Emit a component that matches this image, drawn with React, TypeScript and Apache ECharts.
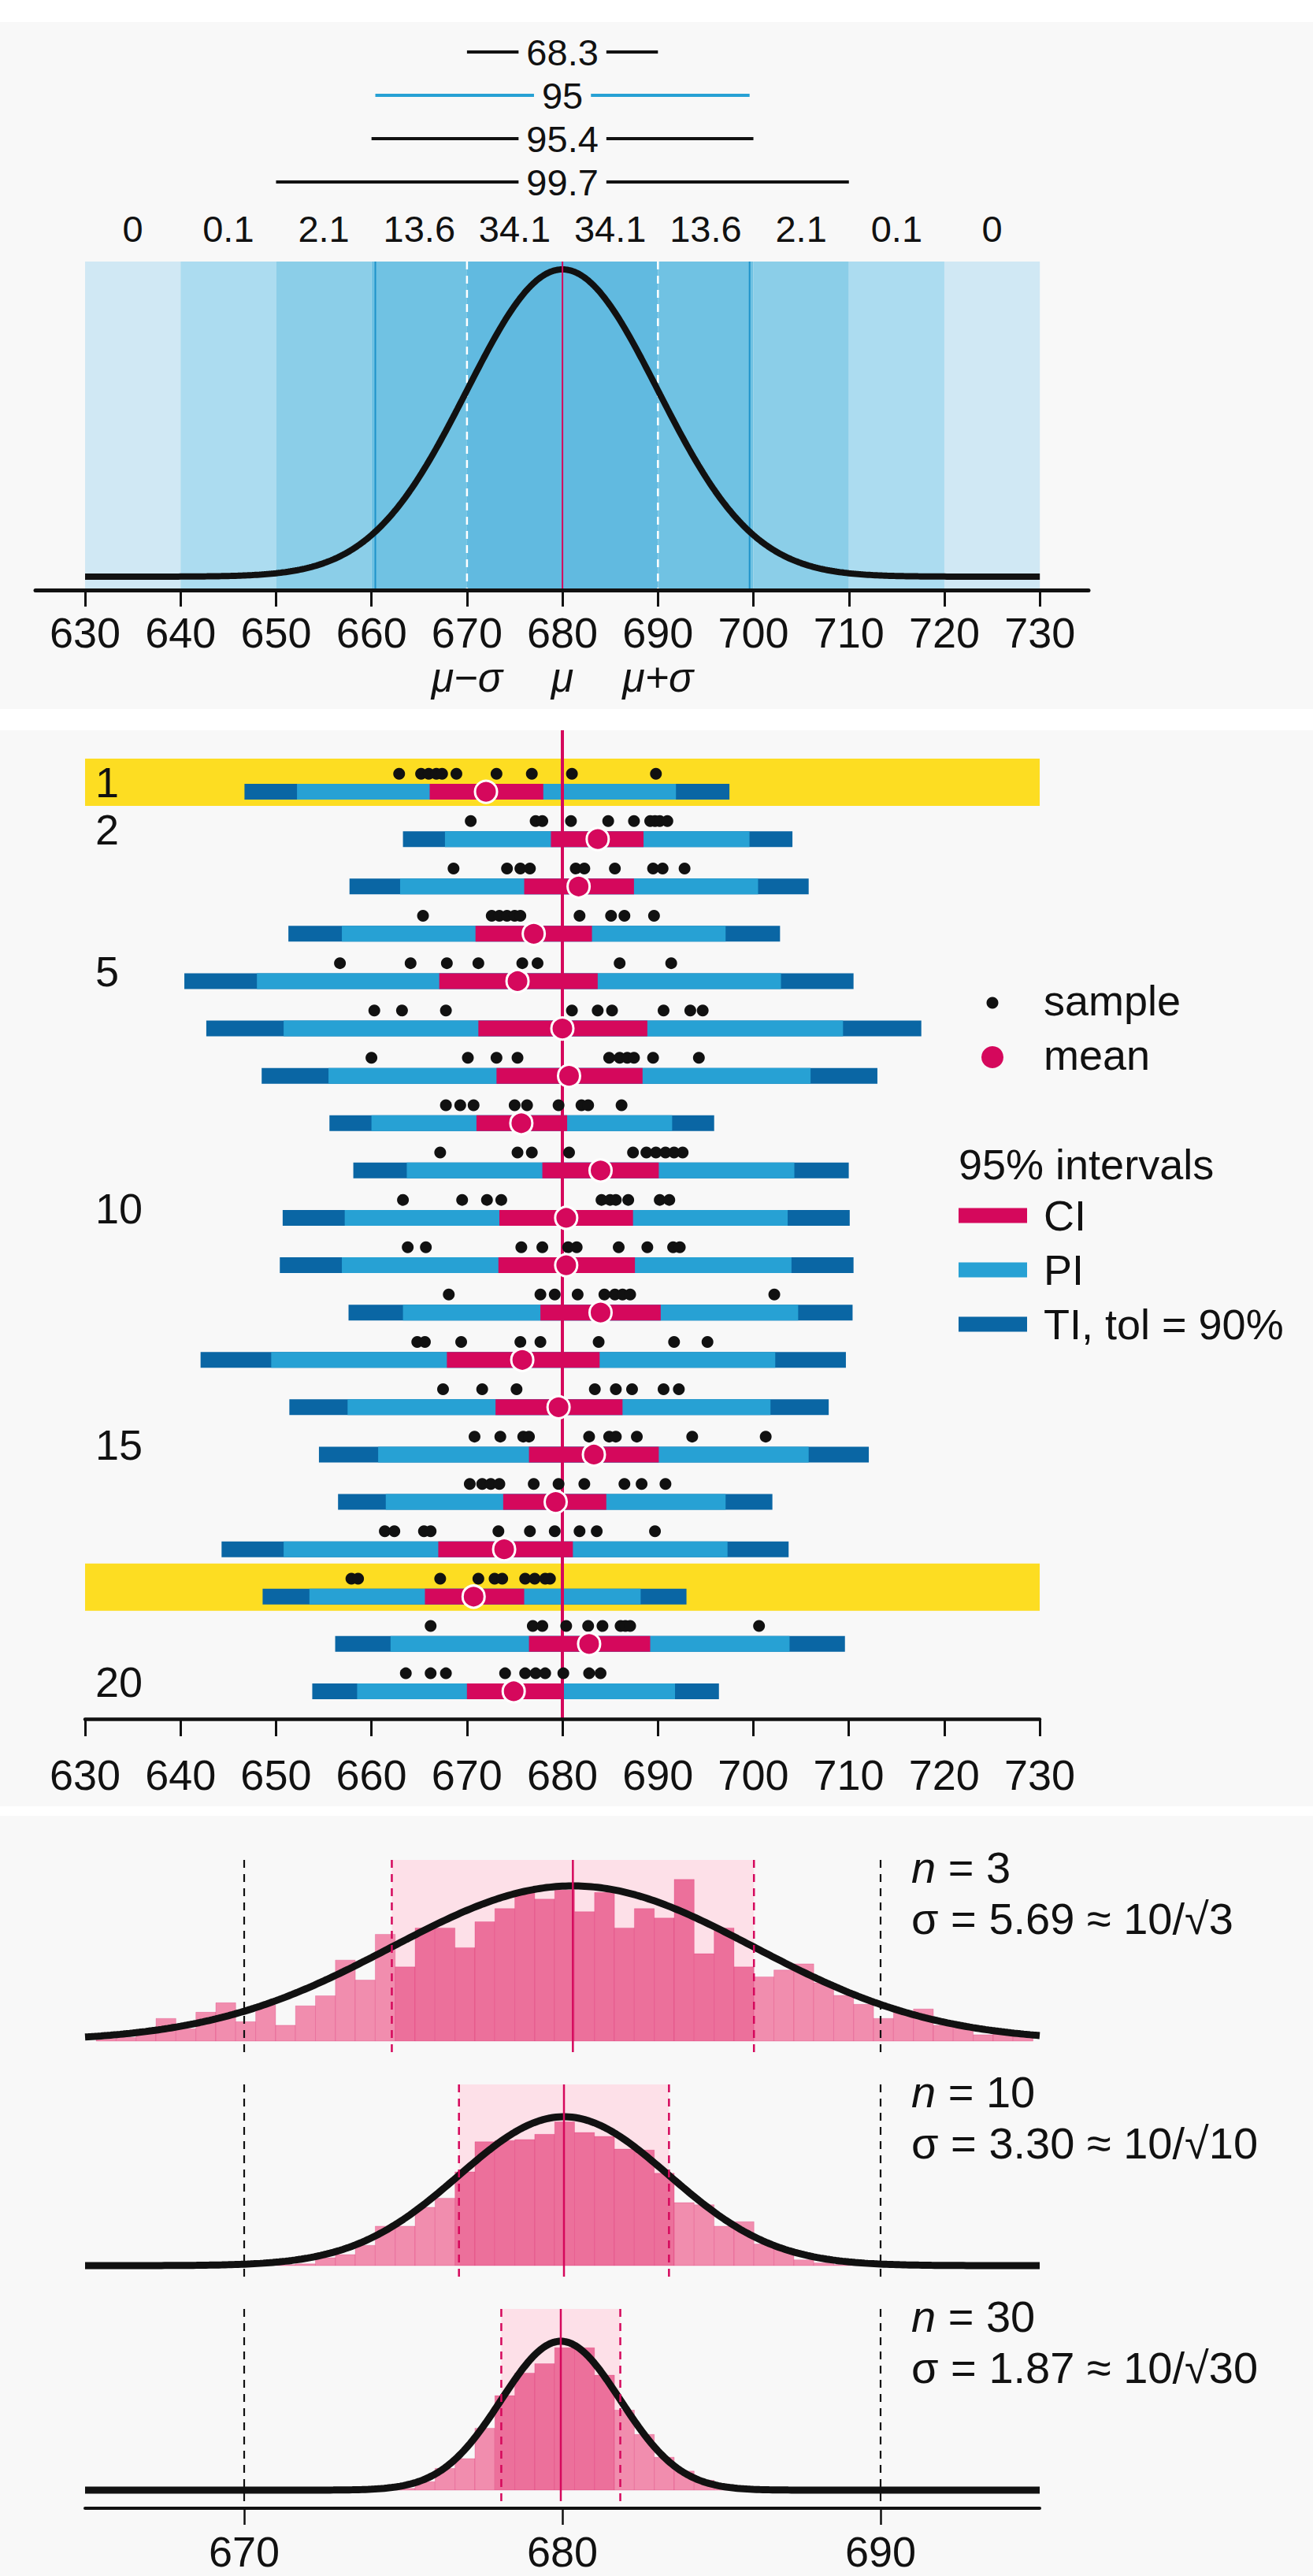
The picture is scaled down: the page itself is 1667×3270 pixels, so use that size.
import React, { useEffect, useRef } from "react";
import * as echarts from "echarts";

const FONT = "Liberation Sans";
const INK = "#111111";
const MAGENTA = "#d5085c";
const PI_BLUE = "#27a1d4";
const TI_BLUE = "#0a66a4";
const YELLOW = "#fddd22";
const PANEL_BG = "#f8f8f8";
const BAND_COLORS = ["#d0e8f4", "#acdcf0", "#8bcee8", "#70c2e3", "#61bae0"];
const HIST_IN = "#ec709b";
const HIST_OUT = "#f18dae";
const HIST_EDGE = "rgba(214,8,92,0.22)";
const CI_FILL = "#fde0e8";

// ---------------- top panel ----------------
const popMean = 680;
const popSd = 10;
const xTicks = [630, 640, 650, 660, 670, 680, 690, 700, 710, 720, 730];
const bandLo = [630, 640, 650, 660, 670, 690, 700, 710, 720];
const bandHi = [640, 650, 660, 670, 690, 700, 710, 720, 730];
const bandShade = [0, 1, 2, 3, 4, 3, 2, 1, 0];
const bandPctAt = [635, 645, 655, 665, 675, 685, 695, 705, 715, 725];
const bandPct = ["0", "0.1", "2.1", "13.6", "34.1", "34.1", "13.6", "2.1", "0.1", "0"];
const coverLabels = ["68.3", "95", "95.4", "99.7"];
const coverZ = [1, 1.96, 2, 3];
const sigmaMarks = [670, 680, 690];
const sigmaMarkLabels = ["μ−σ", "μ", "μ+σ"];

// ---------------- middle panel ----------------
const rowLabels = [1, 2, 5, 10, 15, 20];
const highlightRows = [1, 18];
const sampleRows: number[][] = [
  [662.9, 665.2, 666.0, 666.8, 667.4, 668.9, 673.1, 676.8, 681.0, 689.8],
  [670.4, 677.2, 677.9, 680.9, 684.8, 687.5, 689.2, 689.7, 690.2, 691.0],
  [668.6, 674.2, 675.6, 676.6, 681.4, 682.3, 685.5, 689.5, 690.5, 692.8],
  [665.4, 672.6, 673.4, 674.2, 675.0, 675.6, 681.8, 685.1, 686.5, 689.6],
  [656.7, 664.1, 667.9, 671.2, 675.8, 677.4, 686.0, 691.4],
  [660.3, 663.2, 667.8, 681.0, 683.7, 685.2, 690.6, 693.4, 694.7],
  [660.0, 670.1, 673.1, 675.3, 684.9, 686.0, 686.8, 687.5, 689.5, 694.3],
  [667.8, 669.3, 670.7, 675.0, 676.3, 679.6, 682.0, 682.7, 686.2],
  [667.2, 675.3, 676.8, 680.7, 687.4, 688.8, 689.8, 690.8, 691.7, 692.6],
  [663.3, 669.5, 672.1, 673.6, 684.1, 685.0, 685.6, 686.9, 690.2, 691.2],
  [663.8, 665.7, 675.7, 677.9, 680.6, 681.5, 685.9, 688.9, 691.6, 692.3],
  [668.1, 677.7, 679.2, 681.6, 684.4, 685.5, 686.3, 687.1, 702.2],
  [664.8, 665.6, 669.4, 675.6, 677.7, 683.8, 691.7, 695.2],
  [667.5, 671.6, 675.2, 683.4, 685.6, 687.3, 690.6, 692.2],
  [670.8, 673.5, 675.9, 676.5, 682.8, 684.9, 685.6, 687.8, 693.6, 701.3],
  [670.3, 671.6, 672.5, 673.4, 677.0, 679.6, 682.3, 686.5, 688.3, 690.8],
  [661.4, 662.4, 665.5, 666.2, 673.3, 676.6, 679.2, 681.8, 683.6, 689.7],
  [657.9, 658.6, 667.2, 671.2, 672.9, 673.7, 676.1, 677.1, 678.2, 678.7],
  [666.2, 676.9, 677.9, 680.4, 682.7, 684.2, 686.1, 686.6, 687.1, 700.6],
  [663.6, 666.2, 667.8, 674.0, 676.1, 677.2, 678.2, 680.1, 682.8, 684.0],
];
const rowMeans = [672.0, 683.7, 681.7, 677.0, 675.3, 680.0, 680.7, 675.7, 684.0, 680.4, 680.4, 684.0, 675.8, 679.6, 683.3, 679.3, 673.9, 670.7, 682.8, 674.9];
const ciLo = [666.1, 678.8, 676.0, 670.9, 667.1, 671.2, 673.1, 671.0, 677.9, 673.4, 673.3, 677.7, 667.9, 673.0, 676.5, 673.8, 667.0, 665.6, 676.5, 670.0];
const ciHi = [678.0, 688.5, 687.5, 683.1, 683.7, 688.9, 688.4, 680.5, 690.1, 687.4, 687.6, 690.3, 683.9, 686.3, 690.1, 684.6, 681.1, 676.0, 689.2, 680.1];
const piLo = [652.2, 667.7, 663.0, 656.9, 648.0, 650.8, 655.5, 660.0, 663.7, 657.2, 656.9, 663.3, 649.5, 657.5, 660.7, 661.5, 650.8, 653.5, 662.0, 658.5];
const piHi = [691.9, 699.6, 700.5, 697.1, 702.9, 709.4, 706.0, 691.5, 704.3, 703.6, 704.0, 704.7, 702.3, 701.8, 705.8, 697.1, 697.3, 688.2, 703.8, 691.8];
const tiLo = [646.7, 663.3, 657.7, 651.3, 640.4, 642.7, 648.5, 655.6, 658.1, 650.7, 650.4, 657.6, 642.1, 651.4, 654.5, 656.5, 644.3, 648.6, 656.2, 653.8];
const tiHi = [697.5, 704.1, 705.8, 702.8, 710.5, 717.6, 713.0, 695.9, 710.0, 710.1, 710.5, 710.4, 709.7, 707.9, 712.1, 702.0, 703.7, 693.0, 709.6, 696.4];

// ---------------- bottom panel ----------------
const sampleN = [3, 10, 30];
const sampleMean = [680.33, 680.05, 679.95];
const sampleSd = [5.69, 3.3, 1.87];
const sdNotes = ["σ = 5.69 ≈ 10/√3", "σ = 3.30 ≈ 10/√10", "σ = 1.87 ≈ 10/√30"];
const bottomTicks = [670, 680, 690];
const binStart = 665.35;
const binWidth = 0.6264;
const hist3 = [
  0.017, 0.024, 0.054, 0.146, 0.08, 0.186, 0.247, 0.125, 0.232, 0.102,
  0.227, 0.292, 0.522, 0.393, 0.688, 0.478, 0.729, 0.729, 0.602, 0.769,
  0.854, 0.958, 0.915, 0.973, 0.834, 0.958, 0.729, 0.854, 0.793, 1.042,
  0.563, 0.729, 0.478, 0.414, 0.458, 0.498, 0.376, 0.295, 0.237, 0.146,
  0.186, 0.207, 0.102, 0.102, 0.041, 0.054, 0.041,
];
const hist10 = [
  0, 0, 0, 0, 0, 0, 0, 0, 0,
  0.007, 0.012, 0.053, 0.074, 0.136, 0.265, 0.265, 0.392, 0.453, 0.63,
  0.832, 0.84, 0.847, 0.882, 0.965, 0.894, 0.868, 0.783, 0.776, 0.621,
  0.423, 0.409, 0.265, 0.295, 0.145, 0.109, 0.039, 0.018, 0.007,
  0, 0, 0, 0, 0, 0, 0, 0, 0,
];
const hist30 = [
  0, 0, 0, 0, 0, 0, 0, 0, 0, 0, 0, 0, 0, 0, 0,
  0.012, 0.057, 0.146, 0.212, 0.416, 0.635, 0.786, 0.849, 0.956, 0.956,
  0.772, 0.537, 0.374, 0.221, 0.128, 0.066, 0.018,
  0, 0, 0, 0, 0, 0, 0, 0, 0, 0, 0, 0, 0, 0, 0,
];
const hists = [hist3, hist10, hist30];

// ---------------- layout constants ----------------
const W = 1667;
const H = 3270;
const TOP_XMIN = 624.8;
const TOP_XMAX = 735.1;
const BAR_SHIFT = 0.2;
const DOT_SHIFT = 0.18;
const BAR_H = 20;
const PEAK_PX = [197, 189, 189];

function gaussCurve(m: number, s: number, from: number, to: number, step: number) {
  const pts: number[][] = [];
  for (let x = from; x <= to + 1e-9; x += step) {
    const z = (x - m) / s;
    pts.push([x, Math.exp(-0.5 * z * z)]);
  }
  return pts;
}

function vLines(xAxisIndex: number, yAxisIndex: number, z: number, xs: number[], styles: any[]) {
  return {
    type: "custom",
    xAxisIndex,
    yAxisIndex,
    z,
    silent: true,
    data: xs.map((x, i) => [x, i]),
    renderItem: (params: any, api: any) => {
      const cs = params.coordSys;
      const px = api.coord([api.value(0), 0])[0];
      const st = styles[params.dataIndex];
      return {
        type: "line",
        shape: { x1: px, y1: cs.y, x2: px, y2: cs.y + cs.height },
        style: { stroke: st.color, lineWidth: st.width, lineDash: st.dash || null },
      };
    },
  };
}

function intervalSeries(name: string, lo: number[], hi: number[], color: string, z: number) {
  return {
    type: "custom",
    name,
    xAxisIndex: 4,
    yAxisIndex: 2,
    z,
    silent: true,
    itemStyle: { color },
    data: lo.map((v, i) => [v, hi[i], i + 1]),
    renderItem: (params: any, api: any) => {
      const y = api.value(2) + BAR_SHIFT;
      const a = api.coord([api.value(0), y]);
      const b = api.coord([api.value(1), y]);
      return {
        type: "rect",
        shape: { x: a[0], y: a[1] - BAR_H / 2, width: b[0] - a[0], height: BAR_H },
        style: { fill: color },
      };
    },
  };
}

function textEl(x: number, y: number, text: string, size: number, align = "left", extra: any = {}) {
  return {
    type: "text",
    x,
    y,
    z: 20,
    silent: true,
    style: {
      text,
      fill: INK,
      fontSize: size,
      fontFamily: FONT,
      align,
      verticalAlign: "middle",
      textAlign: align,
      textVerticalAlign: "middle",
      ...extra,
    },
  };
}

function buildOption() {
  const grids: any[] = [
    { left: 45, right: 285, top: 38.5, height: 220 },
    { left: 45, right: 285, top: 332, height: 417 },
    { left: 108, right: 347, top: 927, height: 1255 },
  ];
  for (let k = 0; k < 3; k++) grids.push({ left: 108, right: 347, top: 2361 + 285 * k, height: 244 });

  const hidden = { show: false };
  const baseLabel = { fontFamily: FONT, color: INK };

  const xAxes: any[] = [
    { gridIndex: 0, type: "value", min: TOP_XMIN, max: TOP_XMAX, show: false },
    {
      gridIndex: 1, type: "value", min: TOP_XMIN, max: TOP_XMAX, position: "bottom", z: 10,
      axisLine: { show: true, onZero: false, lineStyle: { color: INK, width: 5 } },
      axisTick: { show: true, customValues: xTicks, length: 21, lineStyle: { color: INK, width: 3 } },
      axisLabel: { ...baseLabel, customValues: xTicks, fontSize: 54, margin: 27 },
      splitLine: hidden,
    },
    {
      gridIndex: 1, type: "value", min: TOP_XMIN, max: TOP_XMAX, position: "top",
      axisLine: { show: false, onZero: false }, axisTick: hidden, splitLine: hidden,
      axisLabel: {
        ...baseLabel, customValues: bandPctAt, fontSize: 47, margin: 18,
        formatter: (v: number) => bandPct[bandPctAt.indexOf(Math.round(v))] ?? "",
      },
    },
    {
      gridIndex: 1, type: "value", min: TOP_XMIN, max: TOP_XMAX, position: "bottom",
      axisLine: { show: false, onZero: false }, axisTick: hidden, splitLine: hidden,
      axisLabel: {
        ...baseLabel, customValues: sigmaMarks, fontSize: 52, fontStyle: "italic", margin: 85,
        formatter: (v: number) => sigmaMarkLabels[sigmaMarks.indexOf(Math.round(v))] ?? "",
      },
    },
    {
      gridIndex: 2, type: "value", min: 630, max: 730, interval: 10, position: "bottom", z: 10,
      axisLine: { show: true, onZero: false, lineStyle: { color: INK, width: 4.5 } },
      axisTick: { show: true, length: 22, lineStyle: { color: INK, width: 3 } },
      axisLabel: { ...baseLabel, fontSize: 54, margin: 44, showMinLabel: true, showMaxLabel: true },
      splitLine: hidden,
    },
  ];
  for (let k = 0; k < 3; k++) {
    if (k < 2) {
      xAxes.push({ gridIndex: 3 + k, type: "value", min: 665, max: 695, show: false });
    } else {
      xAxes.push({
        gridIndex: 3 + k, type: "value", min: 665, max: 695, position: "bottom", offset: 9, z: 10,
        axisLine: { show: true, onZero: false, lineStyle: { color: INK, width: 4 } },
        axisTick: { show: true, customValues: bottomTicks, length: 21, lineStyle: { color: INK, width: 2.5 } },
        axisLabel: { ...baseLabel, customValues: bottomTicks, fontSize: 54, margin: 28 },
        splitLine: hidden,
      });
    }
  }

  const yAxes: any[] = [
    { gridIndex: 0, type: "value", min: 0.5, max: 4.5, inverse: true, show: false },
    { gridIndex: 1, type: "value", min: -0.04359, max: 1.02564, show: false },
    {
      gridIndex: 2, type: "value", min: -0.099, max: 20.783, inverse: true, z: 10,
      axisLine: { show: false, onZero: false }, axisTick: hidden, splitLine: hidden,
      axisLabel: {
        ...baseLabel, customValues: rowLabels, inside: true, margin: 13, fontSize: 54,
        padding: [16, 0, 0, 0], formatter: (v: number) => String(Math.round(v)),
      },
    },
  ];
  for (let k = 0; k < 3; k++) {
    yAxes.push({ gridIndex: 3 + k, type: "value", min: -14 / PEAK_PX[k], max: 230 / PEAK_PX[k], show: false });
  }

  const series: any[] = [];

  // brackets
  series.push({
    type: "custom", xAxisIndex: 0, yAxisIndex: 0, z: 2, silent: true,
    data: coverZ.map((zv, i) => [popMean - zv * popSd, popMean + zv * popSd, i + 1]),
    renderItem: (params: any, api: any) => {
      const i = params.dataIndex;
      const a = api.coord([api.value(0), api.value(2)]);
      const b = api.coord([api.value(1), api.value(2)]);
      const color = coverZ[i] === 1.96 ? PI_BLUE : INK;
      return {
        type: "group",
        children: [
          { type: "line", shape: { x1: a[0], y1: a[1], x2: b[0], y2: b[1] }, style: { stroke: color, lineWidth: 4 } },
          {
            type: "text", x: (a[0] + b[0]) / 2, y: a[1], z2: 10,
            style: {
              text: coverLabels[i], fill: INK, fontSize: 47, fontFamily: FONT,
              align: "center", verticalAlign: "middle", textAlign: "center", textVerticalAlign: "middle",
              backgroundColor: PANEL_BG, padding: [0, 10],
            },
          },
        ],
      };
    },
  });

  // top bands
  series.push({
    type: "custom", xAxisIndex: 1, yAxisIndex: 1, z: 1, silent: true,
    data: bandLo.map((lo, i) => [lo, bandHi[i], bandShade[i]]),
    renderItem: (params: any, api: any) => {
      const cs = params.coordSys;
      const x0 = api.coord([api.value(0), 0])[0];
      const x1 = api.coord([api.value(1), 0])[0];
      return {
        type: "rect",
        shape: { x: x0, y: cs.y, width: x1 - x0, height: cs.height - 2 },
        style: { fill: BAND_COLORS[api.value(2)] },
      };
    },
  });
  series.push(
    vLines(1, 1, 2, [popMean - 1.96 * popSd, popMean + 1.96 * popSd, popMean - popSd, popMean + popSd], [
      { color: "#1f93ca", width: 2 },
      { color: "#1f93ca", width: 2 },
      { color: "#ffffff", width: 2.5, dash: [10, 8] },
      { color: "#ffffff", width: 2.5, dash: [10, 8] },
    ])
  );
  series.push({
    type: "line", xAxisIndex: 1, yAxisIndex: 1, z: 3, silent: true, symbol: "none", showSymbol: false,
    data: gaussCurve(popMean, popSd, 630, 730, 0.25),
    lineStyle: { color: INK, width: 8 },
  });
  series.push(vLines(1, 1, 4, [popMean], [{ color: MAGENTA, width: 2 }]));

  // middle panel
  series.push({
    type: "custom", xAxisIndex: 4, yAxisIndex: 2, z: 1, silent: true,
    data: highlightRows.map((r) => [630, 730, r]),
    renderItem: (params: any, api: any) => {
      const a = api.coord([api.value(0), api.value(2) - 0.5]);
      const b = api.coord([api.value(1), api.value(2) + 0.5]);
      return {
        type: "rect",
        shape: { x: a[0], y: Math.min(a[1], b[1]), width: b[0] - a[0], height: Math.abs(b[1] - a[1]) },
        style: { fill: YELLOW },
      };
    },
  });
  series.push(intervalSeries("TI, tol = 90%", tiLo, tiHi, TI_BLUE, 2));
  series.push(intervalSeries("PI", piLo, piHi, PI_BLUE, 3));
  series.push(intervalSeries("CI", ciLo, ciHi, MAGENTA, 4));
  series.push(vLines(4, 2, 5, [popMean], [{ color: MAGENTA, width: 4 }]));
  series.push({
    type: "scatter", name: "sample", xAxisIndex: 4, yAxisIndex: 2, z: 6, silent: true,
    symbol: "circle", symbolSize: 15,
    itemStyle: { color: INK, opacity: 1 },
    data: sampleRows.flatMap((vals, r) => vals.map((v) => [v, r + 1 - DOT_SHIFT])),
  });
  series.push({
    type: "scatter", name: "mean", xAxisIndex: 4, yAxisIndex: 2, z: 7, silent: true,
    symbol: "circle", symbolSize: 28,
    itemStyle: { color: MAGENTA, borderColor: "#ffffff", borderWidth: 3, opacity: 1 },
    data: rowMeans.map((m, r) => [m, r + 1 + BAR_SHIFT]),
  });

  // bottom panels
  for (let k = 0; k < 3; k++) {
    const m = sampleMean[k];
    const s = sampleSd[k];
    const xi = 5 + k;
    const yi = 3 + k;
    series.push({
      type: "custom", xAxisIndex: xi, yAxisIndex: yi, z: 1, silent: true,
      data: [[m - s, m + s]],
      renderItem: (params: any, api: any) => {
        const cs = params.coordSys;
        const x0 = api.coord([api.value(0), 0]);
        const x1 = api.coord([api.value(1), 0]);
        return {
          type: "rect",
          shape: { x: x0[0], y: cs.y, width: x1[0] - x0[0], height: x0[1] - cs.y },
          style: { fill: CI_FILL },
        };
      },
    });
    series.push({
      type: "custom", xAxisIndex: xi, yAxisIndex: yi, z: 2, silent: true,
      data: hists[k]
        .map((h, i) => [binStart + i * binWidth, binStart + (i + 1) * binWidth, h])
        .filter((d) => d[2] > 0),
      renderItem: (params: any, api: any) => {
        const lo = api.value(0);
        const hi = api.value(1);
        const p0 = api.coord([lo, api.value(2)]);
        const p1 = api.coord([hi, 0]);
        const inside = Math.abs((lo + hi) / 2 - m) <= s;
        return {
          type: "rect",
          shape: { x: p0[0], y: p0[1], width: p1[0] - p0[0], height: p1[1] - p0[1] },
          style: { fill: inside ? HIST_IN : HIST_OUT, stroke: HIST_EDGE, lineWidth: 1 },
        };
      },
    });
    series.push({
      type: "line", xAxisIndex: xi, yAxisIndex: yi, z: 3, silent: true, symbol: "none", showSymbol: false,
      data: gaussCurve(m, s, 665, 695, 0.1),
      lineStyle: { color: INK, width: 9 },
    });
    series.push(
      vLines(xi, yi, 4, [popMean - popSd, popMean + popSd, m - s, m + s, m], [
        { color: INK, width: 2.2, dash: [10, 8] },
        { color: INK, width: 2.2, dash: [10, 8] },
        { color: MAGENTA, width: 2.5, dash: [10, 8] },
        { color: MAGENTA, width: 2.5, dash: [10, 8] },
        { color: MAGENTA, width: 2.5 },
      ])
    );
  }

  // backgrounds, legend and notes
  const elements: any[] = [
    { type: "rect", z: -10, silent: true, shape: { x: 0, y: 28, width: W, height: 872 }, style: { fill: PANEL_BG } },
    { type: "rect", z: -10, silent: true, shape: { x: 0, y: 927, width: W, height: 1366 }, style: { fill: PANEL_BG } },
    { type: "rect", z: -10, silent: true, shape: { x: 0, y: 2305, width: W, height: H - 2305 }, style: { fill: PANEL_BG } },
    { type: "circle", z: 20, silent: true, shape: { cx: 1260, cy: 1273, r: 7.5 }, style: { fill: INK } },
    textEl(1325, 1270, "sample", 54),
    { type: "circle", z: 20, silent: true, shape: { cx: 1260, cy: 1342, r: 14 }, style: { fill: MAGENTA } },
    textEl(1325, 1339, "mean", 54),
    textEl(1217, 1478, "95% intervals", 54),
    { type: "rect", z: 20, silent: true, shape: { x: 1217, y: 1533.5, width: 87, height: 19 }, style: { fill: MAGENTA } },
    textEl(1325, 1543, "CI", 54),
    { type: "rect", z: 20, silent: true, shape: { x: 1217, y: 1602.5, width: 87, height: 19 }, style: { fill: PI_BLUE } },
    textEl(1325, 1612, "PI", 54),
    { type: "rect", z: 20, silent: true, shape: { x: 1217, y: 1671.5, width: 87, height: 19 }, style: { fill: TI_BLUE } },
    textEl(1325, 1681, "TI, tol = 90%", 54),
  ];
  for (let k = 0; k < 3; k++) {
    elements.push(
      textEl(1157, 2370 + 285 * k, `{i|n} = ${sampleN[k]}`, 56, "left", {
        rich: { i: { fontStyle: "italic", fontSize: 56, fontFamily: FONT, fill: INK } },
      })
    );
    elements.push(textEl(1157, 2435 + 285 * k, sdNotes[k], 56));
  }

  return {
    animation: false,
    backgroundColor: "#ffffff",
    textStyle: { fontFamily: FONT, color: INK },
    graphic: { elements },
    grid: grids,
    xAxis: xAxes,
    yAxis: yAxes,
    series,
  };
}

export default function App() {
  const ref = useRef<HTMLDivElement>(null);
  useEffect(() => {
    if (!ref.current) return;
    const chart = echarts.init(ref.current, null, { renderer: "svg", width: W, height: H });
    chart.setOption(buildOption() as any);
    return () => chart.dispose();
  }, []);
  return <div ref={ref} style={{ position: "absolute", left: 0, top: 0, width: W, height: H }} />;
}
